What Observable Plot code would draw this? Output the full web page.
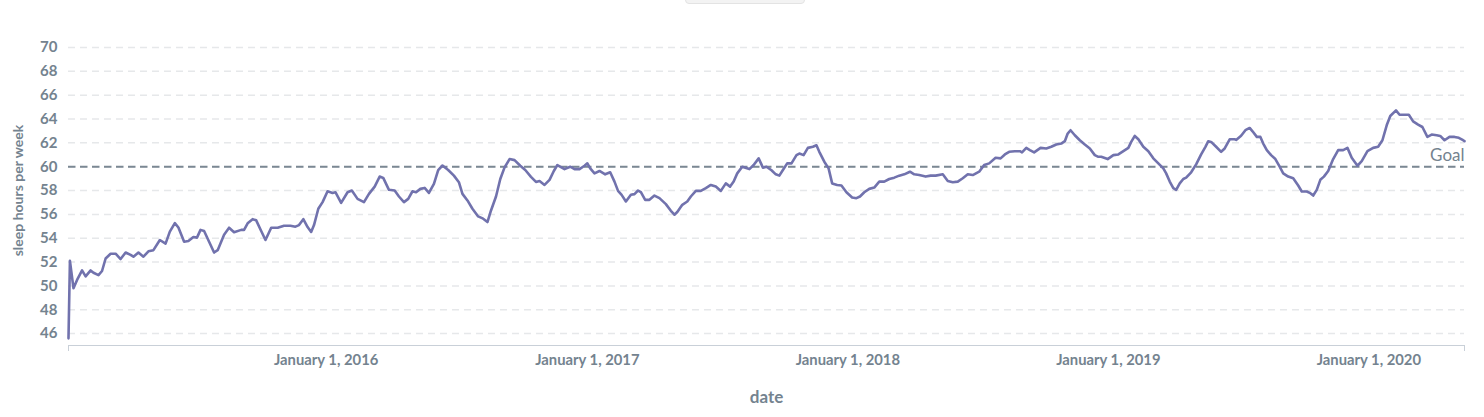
<!DOCTYPE html>
<html>
<head>
<meta charset="utf-8">
<script src="https://cdn.jsdelivr.net/npm/d3@7"></script>
<script src="https://cdn.jsdelivr.net/npm/@observablehq/plot@0.6"></script>
<style>
  html, body { margin: 0; padding: 0; background: #fff; }
  #wrap { position: relative; width: 1484px; height: 417px; overflow: hidden; font-family: Lato, sans-serif; }
  #tab { position: absolute; left: 685px; top: -4px; width: 118px; height: 6px; background: #f3f3f3; border: 1px solid #e3e3e3; border-radius: 4px; }
  svg { display: block; }
</style>
</head>
<body>
<div id="wrap"><div id="tab"></div><div id="chart"></div></div>
<script>
// ---- data ----
const startDate = "2015-01-05";
const endDate = "2020-05-14";
const yearTicks = ["2016-01-01", "2017-01-01", "2018-01-01", "2019-01-01", "2020-01-01"];
const yTicks = [46, 48, 50, 52, 54, 56, 58, 60, 62, 64, 66, 68, 70];
const goal = 60;
const goalLabel = "Goal";
const xLabel = "date";
const yLabel = "sleep hours per week";

// days since startDate
const dayOffsets = [
  0,2,7,12,19,24,31,35,42,47,
  52,59,66,73,80,87,91,98,105,112,
  119,128,136,142,149,154,162,168,175,180,
  185,190,197,204,209,218,225,232,242,246,
  251,258,263,270,276,284,293,302,311,318,
  323,329,335,340,344,350,356,363,370,374,
  382,391,397,405,414,421,429,436,441,449,
  457,463,470,476,482,487,493,499,505,512,
  518,524,532,540,547,552,559,566,574,581,
  587,592,599,605,611,618,625,633,640,648,
  655,660,667,674,680,685,695,703,709,716,
  723,727,731,737,744,752,759,765,770,775,
  781,788,793,798,802,808,814,821,828,837,
  844,849,853,860,867,872,879,886,893,900,
  907,914,921,927,932,937,944,954,960,967,
  973,978,985,991,996,1001,1007,1013,1020,1024,
  1030,1036,1043,1048,1052,1059,1065,1070,1077,1083,
  1090,1098,1104,1109,1115,1122,1129,1136,1143,1150,
  1157,1164,1171,1179,1185,1192,1201,1208,1215,1225,
  1232,1239,1246,1253,1260,1267,1276,1283,1290,1299,
  1306,1312,1318,1326,1333,1336,1342,1347,1353,1362,
  1370,1377,1384,1391,1396,1400,1404,1410,1417,1424,
  1431,1438,1443,1447,1456,1464,1471,1478,1485,1489,
  1494,1499,1506,1513,1520,1527,1534,1538,1543,1548,
  1552,1557,1562,1566,1573,1580,1587,1593,1597,1601,
  1608,1615,1620,1627,1634,1636,1643,1649,1655,1659,
  1665,1670,1674,1679,1685,1691,1697,1702,1709,1716,
  1723,1728,1735,1740,1744,1749,1754,1759,1765,1772,
  1779,1786,1792,1798,1806,1812,1820,1828,1835,1841,
  1847,1852,1860,1865,1872,1878,1884,1891,1897,1904,
  1910,1917,1922,1928,1935,1942,1948,1954,1956
];
const hours = [
  45.6,52.1,49.8,50.5,51.3,50.8,51.3,51.1,50.9,51.25,
  52.3,52.7,52.7,52.25,52.8,52.6,52.45,52.8,52.45,52.9,
  53.0,53.85,53.55,54.55,55.27,54.9,53.7,53.76,54.1,54.05,
  54.7,54.6,53.7,52.8,53.0,54.3,54.88,54.5,54.7,54.7,
  55.25,55.6,55.5,54.6,53.85,54.88,54.88,55.05,55.05,54.97,
  55.1,55.6,54.94,54.53,55.1,56.47,57.03,57.94,57.8,57.86,
  56.97,57.86,58.0,57.3,57.03,57.72,58.33,59.17,59.06,58.06,
  58.0,57.5,57.03,57.3,57.94,57.86,58.14,58.22,57.8,58.56,
  59.72,60.1,59.72,59.25,58.7,57.72,57.17,56.47,55.83,55.64,
  55.36,56.33,57.5,58.97,59.94,60.64,60.55,60.08,59.72,59.15,
  58.72,58.8,58.47,58.9,59.64,60.14,59.8,60.0,59.8,59.8,
  60.08,60.28,59.86,59.44,59.64,59.36,59.53,58.75,57.97,57.64,
  57.08,57.64,57.7,58.0,57.86,57.22,57.22,57.58,57.36,56.86,
  56.3,55.97,56.2,56.8,57.08,57.5,57.97,57.97,58.2,58.47,
  58.33,57.97,58.6,58.33,58.75,59.44,60.0,59.8,60.14,60.7,
  59.92,60.0,59.7,59.36,59.25,59.72,60.28,60.28,60.97,61.1,
  60.97,61.58,61.67,61.8,61.25,60.42,59.86,58.6,58.47,58.42,
  57.86,57.42,57.36,57.5,57.86,58.14,58.25,58.75,58.75,58.97,
  59.08,59.25,59.36,59.58,59.36,59.3,59.17,59.25,59.25,59.36,
  58.8,58.7,58.75,59.03,59.36,59.3,59.58,60.14,60.28,60.75,
  60.7,61.03,61.25,61.3,61.3,61.2,61.58,61.4,61.2,61.58,
  61.53,61.67,61.86,61.94,62.14,62.78,63.06,62.64,62.22,61.86,
  61.53,60.97,60.83,60.83,60.64,60.97,61.03,61.3,61.58,62.08,
  62.58,62.3,61.67,61.3,60.7,60.28,59.86,59.44,58.75,58.2,
  58.06,58.6,58.97,59.08,59.53,60.2,61.03,61.67,62.14,62.08,
  61.67,61.25,61.53,62.3,62.3,62.25,62.6,63.06,63.25,62.97,
  62.5,62.5,61.94,61.39,60.97,60.64,60.0,59.44,59.17,59.03,
  58.42,57.92,57.92,57.78,57.58,58.06,58.9,59.17,59.64,60.64,
  61.39,61.39,61.58,60.75,60.08,60.47,61.3,61.58,61.67,62.22,
  63.47,64.25,64.72,64.36,64.36,64.36,63.8,63.53,63.33,62.5,
  62.7,62.64,62.58,62.22,62.5,62.5,62.42,62.22,62.14
];

// ---- build ----
const start = new Date(startDate + "T00:00:00Z");
const end = new Date(endDate + "T00:00:00Z");
const data = dayOffsets.map((d, i) => ({date: d3.utcDay.offset(start, d), hours: hours[i]}));
const years = yearTicks.map(s => new Date(s + "T00:00:00Z"));

const textColor = "#74838f";
const lineColor = "#7172AD";

const chart = Plot.plot({
  width: 1484,
  height: 417,
  marginLeft: 68,
  marginRight: 20,
  marginTop: 47,
  marginBottom: 72,
  style: {fontFamily: "Lato, sans-serif", background: "transparent", overflow: "visible"},
  x: {type: "utc", domain: [start, end]},
  y: {domain: [45, 70]},
  marks: [
    Plot.gridY(yTicks, {stroke: "#e6e8ea", strokeOpacity: 1, strokeWidth: 1.5, strokeDasharray: "7,5"}),
    Plot.ruleY([45], {stroke: "#c9d0d8", strokeWidth: 1.2}),
    Plot.axisX([start, end], {tickSize: 6, stroke: "#c9d0d8", tickFormat: () => "", label: null}),
    Plot.axisX(years, {tickSize: 0, tickPadding: 9, tickFormat: d3.utcFormat("%B %-d, %Y"),
      fontSize: 14.8, fontWeight: "bold", fill: textColor, label: null}),
    Plot.axisY(yTicks, {tickSize: 0, tickPadding: 11, fontSize: 15, fontWeight: "bold", fill: textColor, label: null}),
    Plot.text([xLabel], {frameAnchor: "bottom", lineAnchor: "middle", dy: 52, fontSize: 17, fontWeight: "bold", fill: textColor}),
    Plot.text([yLabel], {frameAnchor: "left", textAnchor: "middle", dx: -50, dy: -6, rotate: -90, fontSize: 14, fontWeight: "bold", fill: textColor}),
    Plot.ruleY([goal], {stroke: "#7b8893", strokeWidth: 2, strokeDasharray: "7.5,4.5"}),
    Plot.line(data, {x: "date", y: "hours", stroke: lineColor, strokeWidth: 2.6, strokeLinejoin: "round"}),
    Plot.text([goalLabel], {x: () => end, y: () => goal, textAnchor: "end", lineAnchor: "middle", dy: -11, fontSize: 17, fill: textColor})
  ]
});
document.getElementById("chart").appendChild(chart);
</script>
</body>
</html>
